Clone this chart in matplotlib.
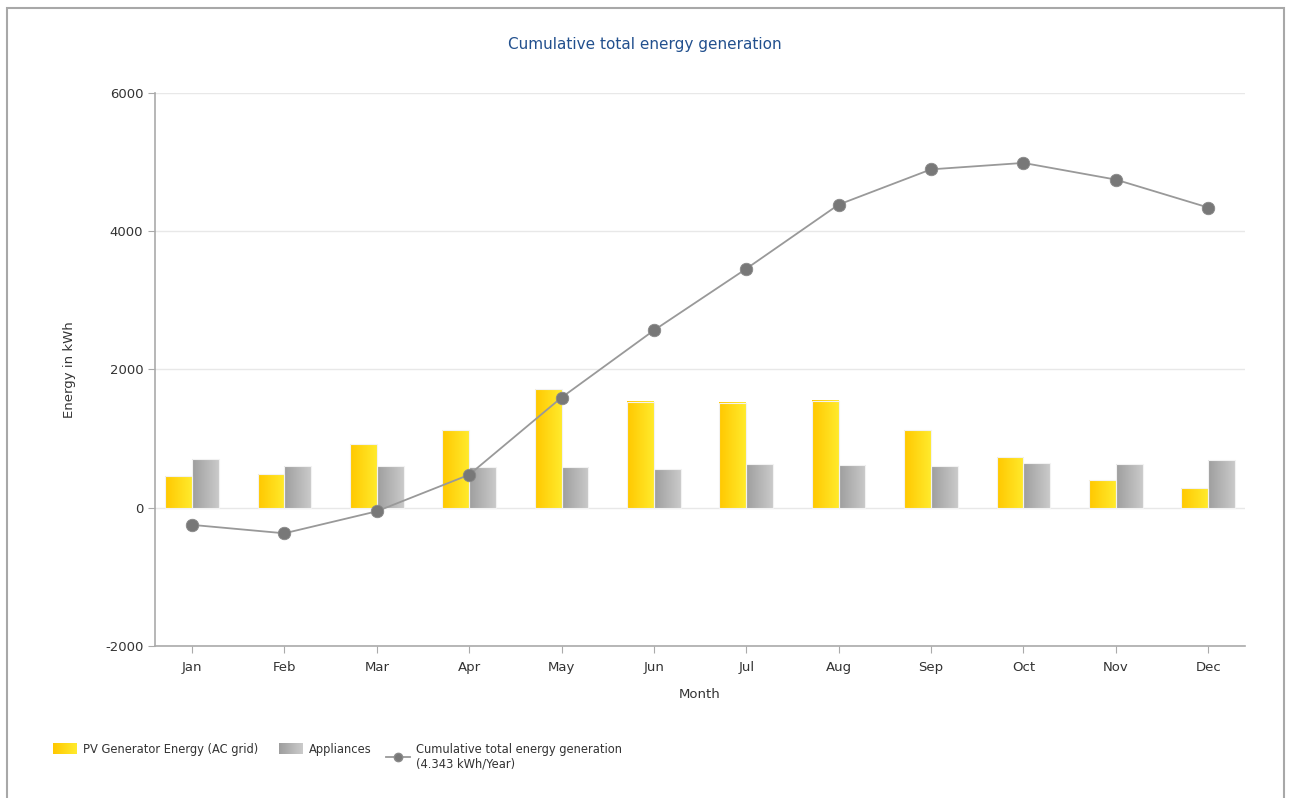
import matplotlib
matplotlib.use("Agg")
import matplotlib.pyplot as plt
import numpy as np
from matplotlib.colors import LinearSegmentedColormap
from matplotlib.legend_handler import HandlerBase
from matplotlib.lines import Line2D
from matplotlib.patches import Rectangle

plt.rcParams['axes.unicode_minus'] = False

# Monthly energy values in kWh
months = ['Jan', 'Feb', 'Mar', 'Apr', 'May', 'Jun',
          'Jul', 'Aug', 'Sep', 'Oct', 'Nov', 'Dec']
pv_energy = [458, 487, 920, 1122, 1718, 1536, 1522, 1551, 1122, 732, 400, 284]
appliances = [699, 598, 607, 588, 592, 563, 631, 617, 607, 641, 631, 693]
cumulative = [-248, -370, -52, 477, 1594, 2566, 3457, 4385, 4895, 4988, 4747, 4343]
yticks = [-2000, 0, 2000, 4000, 6000]

yellow_cmap = LinearSegmentedColormap.from_list('yel', ['#FFC800', '#FFEA2C'])
gray_cmap = LinearSegmentedColormap.from_list('gry', ['#9E9E9E', '#CACACA'])
text_color = '#333333'


class GradientHandler(HandlerBase):
    """Legend key drawn as a horizontal colour gradient."""

    def __init__(self, cmap, steps=24):
        super().__init__()
        self.cmap = cmap
        self.steps = steps

    def create_artists(self, legend, orig_handle, xdescent, ydescent,
                       width, height, fontsize, trans):
        w = width / self.steps
        parts = []
        for i in range(self.steps):
            r = Rectangle((-xdescent + i * w, -ydescent), w * 1.05, height,
                          facecolor=self.cmap(i / (self.steps - 1)),
                          edgecolor='none', transform=trans)
            parts.append(r)
        return parts


def gradient_bars(ax, bars, cmap):
    grad = np.linspace(0, 1, 64).reshape(1, -1)
    for bar in bars:
        x0 = bar.get_x()
        x1 = x0 + bar.get_width()
        y1 = bar.get_height()
        ax.imshow(grad, cmap=cmap, extent=(x0, x1, 0, y1), aspect='auto',
                  zorder=2, interpolation='bilinear')
        bar.set_facecolor('none')
        bar.set_edgecolor('#F2F2F2')
        bar.set_linewidth(0.8)
        bar.set_zorder(3)


fig = plt.figure(figsize=(12.9, 7.98), dpi=100)
ax = fig.add_axes([0.1202, 0.1905, 0.845, 0.693])

x = np.arange(len(months))
width = 0.29

bars_pv = ax.bar(x - width / 2, pv_energy, width, label='PV Generator Energy (AC grid)')
bars_app = ax.bar(x + width / 2, appliances, width, label='Appliances')
gradient_bars(ax, bars_pv, yellow_cmap)
gradient_bars(ax, bars_app, gray_cmap)

line, = ax.plot(x, cumulative, color='#999999', linewidth=1.3, marker='o',
                markersize=9, markerfacecolor='#787878', markeredgecolor='#8A8A8A',
                markeredgewidth=0.6, zorder=5)

ax.set_xlim(-0.4, 11.4)
ax.set_ylim(-2000, 6000)
ax.set_yticks(yticks)
ax.set_xticks(x)
ax.set_xticklabels(months)
ax.grid(axis='y', color='#E8E8E8', linewidth=1)
ax.set_axisbelow(True)

for side in ['top', 'right']:
    ax.spines[side].set_visible(False)
for side in ['left', 'bottom']:
    ax.spines[side].set_color('#AAAAAA')
    ax.spines[side].set_linewidth(1.2)
ax.tick_params(axis='both', colors='#AAAAAA', labelcolor=text_color,
               labelsize=9.5, length=5)
ax.tick_params(axis='x', pad=6)

ax.set_xlabel('Month', fontsize=9.5, color=text_color, labelpad=10)
ax.set_ylabel('Energy in kWh', fontsize=9.5, color=text_color, labelpad=21)
fig.text(0.5, 0.944, 'Cumulative total energy generation', ha='center',
         va='center', fontsize=11, color='#22508E')

# legend below the plot: bar series, then the line series on its own so
# its two-line label hangs from the top
legend_opts = dict(loc='upper left', frameon=False, fontsize=8.3,
                   handlelength=2.1, handleheight=1.1, handletextpad=0.5,
                   labelcolor=text_color)
fig.legend([bars_pv, bars_app],
           ['PV Generator Energy (AC grid)', 'Appliances'],
           handler_map={bars_pv: GradientHandler(yellow_cmap),
                        bars_app: GradientHandler(gray_cmap)},
           bbox_to_anchor=(0.033, 0.0823), ncol=2, columnspacing=1.8,
           **legend_opts)

legend_line = Line2D([], [], color='#999999', linewidth=1.3, marker='o',
                     markersize=6, markerfacecolor='#787878',
                     markeredgecolor='#8A8A8A')
fig.legend([legend_line],
           ['Cumulative total energy generation\n(4.343 kWh/Year)'],
           bbox_to_anchor=(0.2912, 0.0823), **legend_opts)

# outer frame of the chart
fig.patches.append(Rectangle((7 / 1290, -0.05), 1277 / 1290, 1.05 - 8 / 798,
                             transform=fig.transFigure, fill=False,
                             edgecolor='#A8A8A8', linewidth=1.5))

fig.savefig('out.png', dpi=100, facecolor='white')
